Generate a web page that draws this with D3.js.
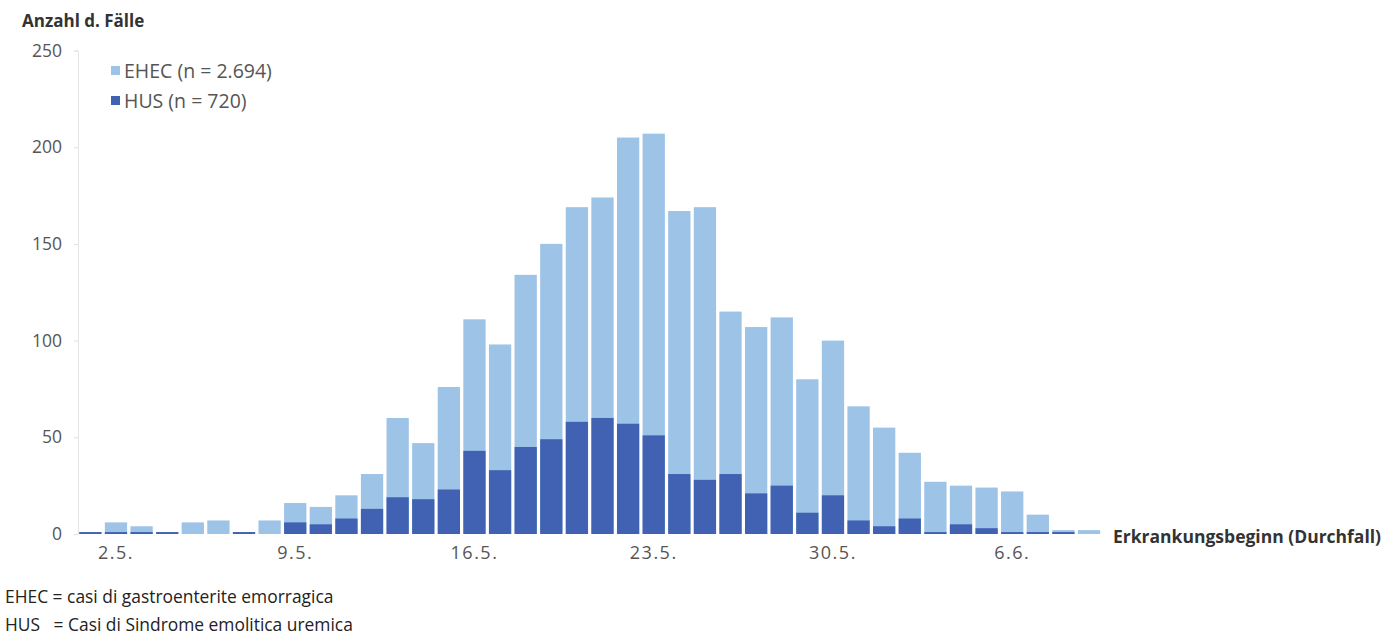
<!DOCTYPE html>
<html><head><meta charset="utf-8">
<script src="https://cdn.jsdelivr.net/npm/d3@7"></script>
<style>body{margin:0;background:#fff;}svg{display:block;}</style>
</head><body>
<svg id="c" width="1400" height="638"></svg>
<script>
// Days: 1.5. – 9.6.
const days = ["1.5.","2.5.","3.5.","4.5.","5.5.","6.5.","7.5.","8.5.","9.5.","10.5.","11.5.","12.5.","13.5.","14.5.","15.5.","16.5.","17.5.","18.5.","19.5.","20.5.","21.5.","22.5.","23.5.","24.5.","25.5.","26.5.","27.5.","28.5.","29.5.","30.5.","31.5.","1.6.","2.6.","3.6.","4.6.","5.6.","6.6.","7.6.","8.6.","9.6."];
const ehec = [1,6,4,1,6,7,1,7,16,14,20,31,60,47,76,111,98,134,150,169,174,205,207,167,169,115,107,112,80,100,66,55,42,27,25,24,22,10,2,2];
const hus  = [1,1,1,1,0,0,1,0,6,5,8,13,19,18,23,43,33,45,49,58,60,57,51,31,28,31,21,25,11,20,7,4,8,1,5,3,1,1,1,0];
const xTickLabels = ["2.5.","9.5.","16.5.","23.5.","30.5.","6.6."];
const yTicks = [0,50,100,150,200,250];
const legendLabels = ["EHEC (n = 2.694)","HUS (n = 720)"];
const notes = ["EHEC = casi di gastroenterite emorragica","HUS   = Casi di Sindrome emolitica uremica"];

const colEhec = "#9dc3e7", colHus = "#4162b3";
const svg = d3.select("#c");
const x = d3.scaleBand().domain(days).range([77.7, 1101.7]).paddingInner(0.13).paddingOuter(0.06);
const y = d3.scaleLinear().domain([0,250]).range([534, 50.5]);
const font = "'Open Sans', 'Noto Sans', sans-serif";

// y axis
const ya = svg.append("g").attr("transform","translate(78,0)")
  .call(d3.axisLeft(y).tickValues(yTicks).tickSize(4).tickPadding(12));
ya.select(".domain").attr("stroke","#e6e6e6");
ya.selectAll(".tick line").attr("stroke","#e0e0e0");
ya.selectAll(".tick text").attr("fill","#555").style("font-family",font).style("font-size","17.5px");

// bars
svg.append("g").selectAll("rect").data(days).join("rect")
  .attr("x", d=>x(d)).attr("width", x.bandwidth())
  .attr("y", (d,i)=>y(ehec[i])).attr("height",(d,i)=>y(0)-y(ehec[i]))
  .attr("fill", colEhec);
svg.append("g").selectAll("rect").data(days).join("rect")
  .attr("x", d=>x(d)).attr("width", x.bandwidth())
  .attr("y", (d,i)=>y(hus[i])).attr("height",(d,i)=>y(0)-y(hus[i]))
  .attr("fill", colHus);

// x axis labels
const xa = svg.append("g").attr("transform","translate(0,534)")
  .call(d3.axisBottom(x).tickValues(xTickLabels).tickSize(0).tickPadding(12));
xa.select(".domain").remove();
xa.selectAll(".tick text").attr("fill","#555").style("font-family",font).style("font-size","18px")
  .style("letter-spacing","1.5px");

// axis titles
svg.append("text").attr("x",22).attr("y",27).text("Anzahl d. Fälle")
  .attr("fill","#333").style("font-family",font).style("font-size","17px").style("font-weight","bold");
svg.append("text").attr("x",1113).attr("y",543).text("Erkrankungsbeginn (Durchfall)")
  .attr("fill","#333").style("font-family",font).style("font-size","17.5px").style("font-weight","bold");

// legend
const lg = svg.append("g");
[colEhec,colHus].forEach((c,i)=>{
  lg.append("rect").attr("x",111).attr("y",66+i*30).attr("width",9).attr("height",9).attr("fill",c);
  lg.append("text").attr("x",124).attr("y",78+i*30).text(legendLabels[i])
    .attr("fill","#555").style("font-family",font).style("font-size","19.5px");
});

// notes
notes.forEach((t,i)=>{
  svg.append("text").attr("x",5).attr("y",603+i*28).text(t).attr("xml:space","preserve")
    .style("white-space","pre")
    .attr("fill","#222").style("font-family",font).style("font-size","17.4px");
});
</script>
</body></html>
